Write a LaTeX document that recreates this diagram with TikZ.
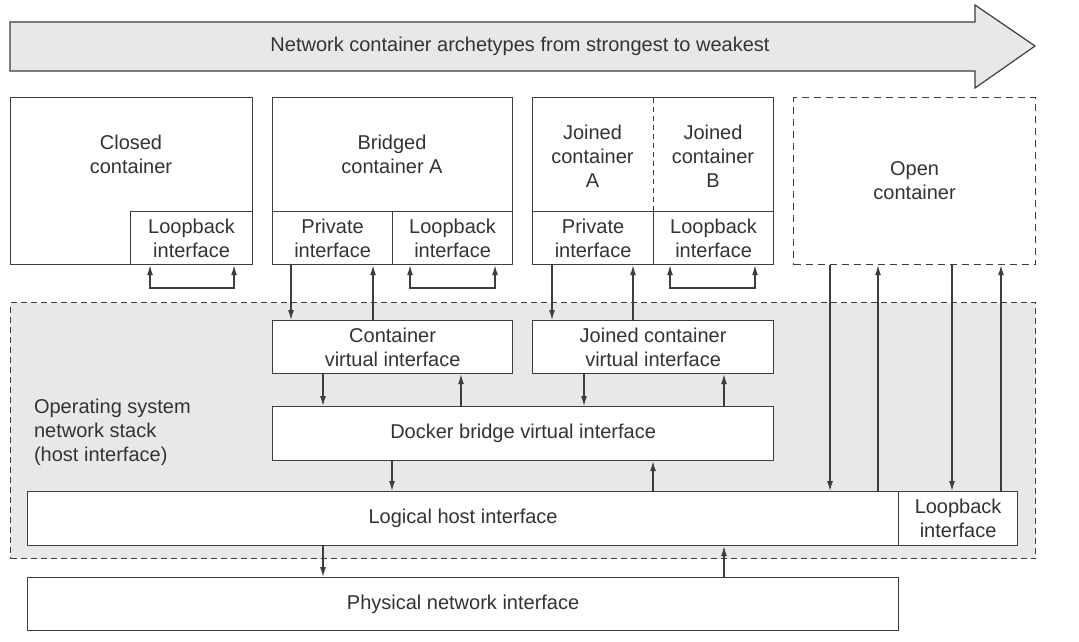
\documentclass[tikz,border=0pt]{standalone}
\usepackage{fontspec}
\setmainfont{Liberation Sans}
\usetikzlibrary{positioning}
\usetikzlibrary{arrows.meta}
\definecolor{stackgray}{rgb}{0.91,0.91,0.91}
\definecolor{inkgray}{rgb}{0.24,0.24,0.24}
\definecolor{textgray}{rgb}{0.2,0.2,0.2}
\tikzset{
  box/.style={draw=inkgray, fill=white, line width=0.6pt, inner sep=0pt, anchor=north west},
  lbl/.style={text=textgray, align=center, font=\fontsize{10}{12}\selectfont},
  conn/.style={draw=inkgray, line width=0.6pt, -{Latex[length=5pt,width=3pt]}},
  loopconn/.style={draw=inkgray, line width=0.6pt, {Latex[length=5pt,width=3pt]}-{Latex[length=5pt,width=3pt]}},
}
\begin{document}
\begin{tikzpicture}[x=0.5pt,y=-0.5pt]
\useasboundingbox (0,0) rectangle (1079,641);

% strongest -> weakest
\draw[draw=inkgray, fill=stackgray, line width=0.6pt]
  (10,22) -- (975,22) -- (975,5) -- (1035,46) -- (975,88) -- (975,71) -- (10,71) -- cycle;
\node[lbl, font=\fontsize{10}{12}\selectfont] (archtxt) at (520,46) {Network container archetypes from strongest to weakest};

% containers
\node[box, minimum width=121pt, minimum height=83.5pt] (closed) at (10,97) {};
\node[lbl] (closedtxt) at (131,154) {Closed\\container};
\node[box, lbl, minimum width=61pt, minimum height=26.5pt] (cloop) at (130,211) {Loopback\\interface};

\node[box, minimum width=120pt, minimum height=83.5pt] (bridged) at (272,97) {};
\node[lbl] (bridgedtxt) at (392,154) {Bridged\\container A};
\node[box, lbl, minimum width=60pt, minimum height=26.5pt] (bpriv) at (272,211) {Private\\interface};
\node[box, lbl, minimum width=60pt, minimum height=26.5pt] (bloop) at (392,211) {Loopback\\interface};

\node[box, minimum width=120.5pt, minimum height=83.5pt] (joined) at (532,97) {};
\node[box, lbl, minimum width=60.5pt, minimum height=26.5pt] (jpriv) at (532,211) {Private\\interface};
\node[box, lbl, minimum width=60pt, minimum height=26.5pt] (jloop) at (653,211) {Loopback\\interface};
\draw[inkgray, line width=0.5pt, dash pattern=on 2.5pt off 2pt] (jloop.north west) -- (jloop.north west |- joined.north);
\node[lbl] (joinedatxt) at (592.5,156) {Joined\\container\\A};
\node[lbl] (joinedbtxt) at (713,156) {Joined\\container\\B};

\node[box, lbl, dash pattern=on 3.5pt off 2.5pt, minimum width=121pt, minimum height=83.5pt] (open) at (793,97) {Open\\container};

% host network stack
\node[draw=inkgray, fill=stackgray, line width=0.6pt, dash pattern=on 3pt off 2pt,
  minimum width=512.5pt, minimum height=128pt, inner sep=0pt, anchor=north west] (stack) at (10,302) {};
\node[lbl, align=left, anchor=west] (stacktxt) at (27,432) {Operating system\\network stack\\(host interface)};

\node[box, lbl, minimum width=120pt, minimum height=26.5pt] (cvi) at (272,320) {Container\\virtual interface};
\node[box, lbl, minimum width=120.5pt, minimum height=26.5pt] (jcvi) at (532,320) {Joined container\\virtual interface};
\node[box, lbl, minimum width=250.5pt, minimum height=27pt] (docker) at (272,406) {Docker bridge virtual interface};
\node[box, lbl, minimum width=435.5pt, minimum height=27pt] (logical) at (27,491) {Logical host interface};
\node[box, lbl, minimum width=59.5pt, minimum height=27pt] (hloop) at (898,491) {Loopback\\interface};
\node[box, lbl, minimum width=435.5pt, minimum height=26.5pt] (physical) at (27,577) {Physical network interface};

% loopbacks
\draw[loopconn] (150,0 |- cloop.south) -- (150,288) -- (234,288) -- (234,0 |- cloop.south);
\draw[loopconn] (410,0 |- bloop.south) -- (410,288) -- (495,288) -- (495,0 |- bloop.south);
\draw[loopconn] (670,0 |- jloop.south) -- (670,288) -- (755,288) -- (755,0 |- jloop.south);

% containers <-> virtual interfaces
\draw[conn] (291,0 |- bpriv.south) -- (291,0 |- cvi.north);
\draw[conn] (373,0 |- cvi.north) -- (373,0 |- bpriv.south);
\draw[conn] (552,0 |- jpriv.south) -- (552,0 |- jcvi.north);
\draw[conn] (633,0 |- jcvi.north) -- (633,0 |- jpriv.south);

% virtual interfaces <-> bridge
\draw[conn] (323,0 |- cvi.south) -- (323,0 |- docker.north);
\draw[conn] (461,0 |- docker.north) -- (461,0 |- cvi.south);
\draw[conn] (584,0 |- jcvi.south) -- (584,0 |- docker.north);
\draw[conn] (724,0 |- docker.north) -- (724,0 |- jcvi.south);

% bridge <-> host
\draw[conn] (392,0 |- docker.south) -- (392,0 |- logical.north);
\draw[conn] (653,0 |- logical.north) -- (653,0 |- docker.south);

% open container
\draw[conn] (830,0 |- open.south) -- (830,0 |- logical.north);
\draw[conn] (878,0 |- logical.north) -- (878,0 |- open.south);
\draw[conn] (952,0 |- open.south) -- (952,0 |- hloop.north);
\draw[conn] (1001,0 |- hloop.north) -- (1001,0 |- open.south);

% host <-> physical
\draw[conn] (323,0 |- logical.south) -- (323,0 |- physical.north);
\draw[conn] (724,0 |- physical.north) -- (724,0 |- logical.south);
\end{tikzpicture}
\end{document}
